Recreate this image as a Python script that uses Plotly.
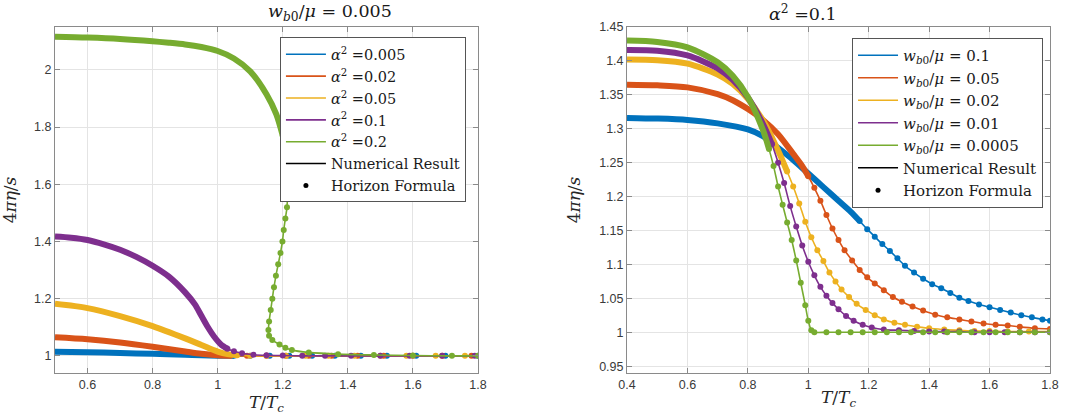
import plotly.graph_objects as go

# ---------------- data ----------------
# Left panel: w_b0/mu = 0.005, different alpha^2
L_labels = ["<i>α</i><sup>2</sup> =0.005", "<i>α</i><sup>2</sup> =0.02",
            "<i>α</i><sup>2</sup> =0.05", "<i>α</i><sup>2</sup> =0.1",
            "<i>α</i><sup>2</sup> =0.2"]

L_T_a0005 = [0.5, 0.6, 0.7, 0.8, 0.9, 0.95, 1.0,
             1.05, 1.1, 1.16, 1.22, 1.29, 1.36, 1.44, 1.52, 1.61, 1.7, 1.8]
L_y_a0005 = [1.014, 1.013, 1.010, 1.007, 1.0035, 1.002, 1.0003,
             1.0, 1.0, 1.0, 1.0, 1.0, 1.0, 1.0, 1.0, 1.0, 1.0, 1.0]

L_T_a002 = [0.5, 0.6, 0.7, 0.8, 0.9, 0.95, 1.0,
            1.04, 1.09, 1.15, 1.21, 1.28, 1.35, 1.43, 1.51, 1.6, 1.69, 1.78]
L_y_a002 = [1.065, 1.058, 1.047, 1.032, 1.015, 1.007, 1.002,
            1.0, 1.0, 1.0, 1.0, 1.0, 1.0, 1.0, 1.0, 1.0, 1.0, 1.0]

L_T_a005 = [0.5, 0.6, 0.7, 0.8, 0.9, 0.95, 1.0, 1.03,
            1.06, 1.1, 1.15, 1.21, 1.27, 1.34, 1.42, 1.5, 1.58, 1.67, 1.76]
L_y_a005 = [1.182, 1.167, 1.139, 1.104, 1.061, 1.038, 1.015, 1.006,
            1.002, 1.0, 1.0, 1.0, 1.0, 1.0, 1.0, 1.0, 1.0, 1.0, 1.0]

L_T_a01 = [0.5, 0.55, 0.6, 0.65, 0.7, 0.75, 0.8, 0.85, 0.9, 0.93, 0.95, 0.97, 0.99, 1.01,
           1.03, 1.05, 1.075, 1.11, 1.15, 1.2, 1.26, 1.33, 1.41, 1.5, 1.59, 1.69, 1.79]
L_y_a01 = [1.417, 1.413, 1.405, 1.390, 1.371, 1.346, 1.315, 1.277, 1.222, 1.180, 1.140,
           1.100, 1.066, 1.040,
           1.025, 1.016, 1.009, 1.004, 1.002, 1.001, 1.0, 1.0, 1.0, 1.0, 1.0, 1.0, 1.0]

L_T_a02 = [0.5, 0.6, 0.7, 0.8, 0.85, 0.9, 0.95, 1.0, 1.05, 1.1, 1.15, 1.18,
           1.2, 1.208, 1.213, 1.215, 1.213, 1.208, 1.203, 1.199, 1.193, 1.186, 1.179,
           1.173, 1.168, 1.163, 1.158, 1.156, 1.158, 1.168, 1.19, 1.208, 1.228, 1.28,
           1.37, 1.48, 1.6, 1.72, 1.8]
L_y_a02 = [2.116, 2.113, 2.108, 2.100, 2.095, 2.089, 2.080, 2.066, 2.040, 1.995, 1.915, 1.845,
           1.77, 1.71, 1.65, 1.58, 1.52, 1.48, 1.44, 1.40, 1.36, 1.32, 1.28,
           1.24, 1.20, 1.16, 1.12, 1.09, 1.07, 1.055, 1.04, 1.028, 1.02, 1.012,
           1.006, 1.003, 1.001, 1.0, 1.0]

# Right panel: alpha^2 = 0.1, different w_b0/mu
R_labels = ["<i>w</i><sub><i>b</i>0</sub>/<i>μ</i> = 0.1",
            "<i>w</i><sub><i>b</i>0</sub>/<i>μ</i> = 0.05",
            "<i>w</i><sub><i>b</i>0</sub>/<i>μ</i> = 0.02",
            "<i>w</i><sub><i>b</i>0</sub>/<i>μ</i> = 0.01",
            "<i>w</i><sub><i>b</i>0</sub>/<i>μ</i> = 0.0005"]

R_T_w01 = [0.4, 0.5, 0.6, 0.7, 0.8, 0.85, 0.9, 0.95, 1.0, 1.05, 1.1, 1.14,
           1.17, 1.195, 1.22, 1.245, 1.27, 1.295, 1.32, 1.35, 1.38, 1.41, 1.44, 1.47,
           1.5, 1.53, 1.565, 1.6, 1.635, 1.67, 1.705, 1.74, 1.775, 1.8]
R_y_w01 = [1.316, 1.315, 1.313, 1.308, 1.299, 1.289, 1.272, 1.254, 1.234, 1.214, 1.194, 1.178,
           1.164, 1.152, 1.141, 1.130, 1.120, 1.109, 1.098, 1.088, 1.079, 1.071, 1.065, 1.058,
           1.051, 1.046, 1.041, 1.037, 1.033, 1.029, 1.025, 1.022, 1.019, 1.017]

R_T_w005 = [0.4, 0.5, 0.6, 0.7, 0.75, 0.8, 0.85, 0.9, 0.95, 0.98,
            1.0, 1.02, 1.04, 1.06, 1.08, 1.1, 1.12, 1.145, 1.17, 1.195, 1.22, 1.25, 1.28,
            1.31, 1.345, 1.38, 1.42, 1.46, 1.5, 1.54, 1.58, 1.62, 1.66, 1.7, 1.75, 1.8]
R_y_w005 = [1.365, 1.364, 1.361, 1.351, 1.342, 1.329, 1.313, 1.292, 1.263, 1.245,
            1.230, 1.213, 1.194, 1.173, 1.153, 1.136, 1.121, 1.106, 1.092, 1.081, 1.072,
            1.062, 1.052, 1.045, 1.038, 1.032, 1.026, 1.022, 1.019, 1.016, 1.013, 1.011,
            1.010, 1.008, 1.006, 1.005]

R_T_w002 = [0.4, 0.5, 0.6, 0.7, 0.75, 0.8, 0.85, 0.9,
            0.93, 0.95, 0.97, 0.99, 1.01, 1.03, 1.05, 1.07, 1.09, 1.11, 1.135, 1.16, 1.19,
            1.22, 1.25, 1.285, 1.32, 1.36, 1.4, 1.45, 1.5, 1.55, 1.6, 1.66, 1.73, 1.8]
R_y_w002 = [1.402, 1.401, 1.396, 1.380, 1.366, 1.344, 1.312, 1.268,
            1.237, 1.215, 1.190, 1.163, 1.140, 1.121, 1.105, 1.088, 1.075, 1.063, 1.052,
            1.042, 1.033, 1.025, 1.019, 1.014, 1.011, 1.008, 1.006, 1.004, 1.003, 1.002,
            1.002, 1.001, 1.001, 1.001]

R_T_w001 = [0.4, 0.5, 0.6, 0.7, 0.75, 0.8, 0.85,
            0.88, 0.9, 0.92, 0.94, 0.96, 0.98, 1.0, 1.02, 1.04, 1.06, 1.08, 1.1, 1.125,
            1.15, 1.18, 1.21, 1.25, 1.3, 1.35, 1.4, 1.45, 1.5, 1.55, 1.6, 1.65, 1.7, 1.75, 1.8]
R_y_w001 = [1.416, 1.415, 1.408, 1.389, 1.372, 1.346, 1.307,
            1.277, 1.250, 1.220, 1.186, 1.156, 1.128, 1.104, 1.084, 1.067, 1.054, 1.043,
            1.034, 1.024, 1.017, 1.011, 1.007, 1.004, 1.003, 1.002, 1.001, 1.001, 1.001,
            1.0, 1.0, 1.0, 1.0, 1.0, 1.0]

R_T_w00005 = [0.4, 0.5, 0.6, 0.7, 0.75, 0.8, 0.85,
              0.87, 0.885, 0.9, 0.915, 0.93, 0.945, 0.96, 0.975, 0.99, 1.0, 1.01, 1.02,
              1.06, 1.1, 1.14, 1.18, 1.22, 1.26, 1.3, 1.34, 1.38, 1.42, 1.46, 1.5, 1.54,
              1.58, 1.62, 1.66, 1.7, 1.75, 1.8]
R_y_w00005 = [1.430, 1.428, 1.420, 1.398, 1.378, 1.347, 1.298,
              1.270, 1.245, 1.215, 1.188, 1.162, 1.136, 1.106, 1.073, 1.040, 1.017, 1.003,
              1.0, 1.0, 1.0, 1.0, 1.0, 1.0, 1.0, 1.0, 1.0, 1.0, 1.0, 1.0, 1.0, 1.0,
              1.0, 1.0, 1.0, 1.0, 1.0, 1.0]

# ---------------- styles ----------------
COLORS = ["#0072BD", "#D95319", "#EDB120", "#7E2F8E", "#77AC30"]
# number of leading points drawn as a dense band of dots
L_dense = [7, 7, 8, 14, 12]
R_dense = [12, 10, 8, 7, 7]

SERIF = "DejaVu Serif, Liberation Serif, serif"
SANS = "Liberation Sans, Arial, Helvetica, sans-serif"

fig = go.Figure()

left = [(L_T_a0005, L_y_a0005), (L_T_a002, L_y_a002), (L_T_a005, L_y_a005),
        (L_T_a01, L_y_a01), (L_T_a02, L_y_a02)]
right = [(R_T_w01, R_y_w01), (R_T_w005, R_y_w005), (R_T_w002, R_y_w002),
         (R_T_w001, R_y_w001), (R_T_w00005, R_y_w00005)]


def add_panel(series, labels, dense, xa, ya, legend):
    for (xs, ys), lab, nd, col in zip(series, labels, dense, COLORS):
        # dense band of horizon-formula dots
        fig.add_trace(go.Scatter(x=xs[:nd + 1], y=ys[:nd + 1], mode="lines",
                                 line=dict(color=col, width=6, shape="spline", smoothing=0.8),
                                 xaxis=xa, yaxis=ya, showlegend=False, hoverinfo="skip"))
        # numerical result line
        fig.add_trace(go.Scatter(x=xs, y=ys, mode="lines", name=lab,
                                 line=dict(color=col, width=1.6, shape="spline", smoothing=0.8),
                                 xaxis=xa, yaxis=ya, legend=legend))
        # sparse horizon-formula dots
        fig.add_trace(go.Scatter(x=xs[nd:], y=ys[nd:], mode="markers",
                                 marker=dict(color=col, size=6),
                                 xaxis=xa, yaxis=ya, showlegend=False))
    fig.add_trace(go.Scatter(x=[None], y=[None], mode="lines", name="Numerical Result",
                             line=dict(color="black", width=1.6), xaxis=xa, yaxis=ya,
                             legend=legend))
    fig.add_trace(go.Scatter(x=[None], y=[None], mode="markers", name="Horizon Formula",
                             marker=dict(color="black", size=5), xaxis=xa, yaxis=ya,
                             legend=legend))


add_panel(left, L_labels, L_dense, "x", "y", "legend")
add_panel(right, R_labels, R_dense, "x2", "y2", "legend2")

axis_common = dict(showline=True, mirror="allticks", linecolor="#8a8a8a", linewidth=1,
                   ticks="inside", ticklen=5, tickcolor="#8a8a8a", automargin=False,
                   showgrid=True, gridcolor="#e4e4e4", gridwidth=1, zeroline=False,
                   tickfont=dict(family=SANS, size=12.5, color="#3a3a3a"))

xt = dict(text="<i>T</i>/<i>T</i><sub><i>c</i></sub>",
          font=dict(family=SERIF, size=17, color="#262626"), standoff=0)
yt_l = dict(text="4<i>πη</i>/<i>s</i>", font=dict(family=SERIF, size=17, color="#262626"),
            standoff=16)
yt_r = dict(text="4<i>πη</i>/<i>s</i>", font=dict(family=SERIF, size=17, color="#262626"),
            standoff=14)

legend_common = dict(bgcolor="white", bordercolor="#555555", borderwidth=1,
                     xanchor="right", yanchor="top", tracegroupgap=0,
                     itemwidth=40, traceorder="normal")

fig.update_layout(
    width=1079, height=419,
    margin=dict(l=55, r=29, t=27, b=46, autoexpand=False),
    plot_bgcolor="white", paper_bgcolor="white",
    xaxis=dict(domain=[0, 0.4251], range=[0.5, 1.8], dtick=0.2, tick0=0, title=xt,
               **axis_common),
    yaxis=dict(range=[0.94, 2.15], dtick=0.2, tick0=0, title=yt_l, **axis_common),
    xaxis2=dict(domain=[0.5749, 1], range=[0.4, 1.8], dtick=0.2, tick0=0, title=xt,
                anchor="y2", **axis_common),
    yaxis2=dict(range=[0.94, 1.45], dtick=0.05, tick0=0, title=yt_r, anchor="x2",
                **axis_common),
    legend=dict(x=0.413, y=0.97, font=dict(family=SERIF, size=14.5, color="#1a1a1a"),
                **legend_common),
    legend2=dict(x=0.993, y=0.968, font=dict(family=SERIF, size=15, color="#1a1a1a"),
                 **legend_common),
    annotations=[
        dict(text="<i>w</i><sub><i>b</i>0</sub>/<i>μ</i> = 0.005", xref="paper", yref="paper",
             x=0.2125, y=1.0, yanchor="bottom", yshift=1, showarrow=False,
             font=dict(family=SERIF, size=17.5, color="#1a1a1a")),
        dict(text="<i>α</i><sup>2</sup> =0.1", xref="paper", yref="paper",
             x=0.7875, y=1.0, yanchor="bottom", yshift=1, showarrow=False,
             font=dict(family=SERIF, size=17.5, color="#1a1a1a")),
    ],
    showlegend=True,
)

# remove the browser's default page margin so the figure fills the window exactly
fig.write_html("out.html", config={"displayModeBar": False},
               post_script="document.body.style.margin='0px';")
